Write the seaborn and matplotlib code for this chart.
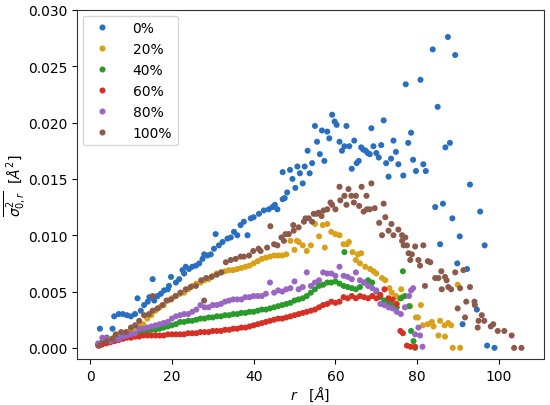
import numpy as np
import pandas as pd
import matplotlib
matplotlib.use("Agg")
import matplotlib.pyplot as plt
import seaborn as sns

labels = ["0%", "20%", "40%", "60%", "80%", "100%"]
colors = ["#2a6fbf", "#d9a019", "#2a9a2a", "#d62f26", "#9a66c4", "#8c5a4a"]

r_0 = [2.4, 4.1, 5.5, 5.9, 7, 8, 9, 10, 11, 11.6,
       12.4, 13.2, 14.1, 14.5, 15.3, 15.3, 15.7, 16.5, 17.3, 18.1,
       19, 19.3, 19.8, 21, 21.8, 22.6, 23, 23.4, 24.2, 25,
       25.9, 26.7, 27.5, 27.9, 28.7, 29.5, 30.3, 30.7, 31.5, 32.4,
       33.6, 34.4, 35.2, 36, 36.8, 37.6, 38.5, 39.3, 40, 41.3,
       42.5, 43.7, 44.6, 45.2, 45.8, 47.1, 47.6, 48.2, 47.1, 48.9,
       49.5, 50.2, 50.7, 51.3, 52, 52.5, 53.2, 53.7, 54.3, 55,
       55.5, 56.2, 56.7, 57.3, 58, 58.5, 59.2, 59.8, 60.3, 61,
       61.6, 62.2, 62.7, 63.4, 64, 64.6, 65.2, 65.7, 66.3, 66.8,
       67.4, 67.9, 68.4, 68.8, 69.3, 70, 70.6, 71.2, 71.8, 72.4,
       73, 73.6, 74.2, 74.8, 75.4, 76.6, 77.2, 77.8, 78.5, 79,
       79.7, 80.8, 81.5, 82.1, 83.8, 84.4, 85, 85.6, 86.3, 86.9,
       87.5, 88, 88.6, 89.3, 89.8, 90.4, 91.1, 92.2, 92.9, 94.6,
       95.4, 96.5, 97.1, 98.9]
v_0 = [0.0017, 0.0009, 0.0017, 0.0028, 0.0030, 0.0030, 0.0029, 0.0028, 0.0030, 0.0044,
       0.0033, 0.0038, 0.0041, 0.0045, 0.0044, 0.0061, 0.0042, 0.0046, 0.0048, 0.0051,
       0.0052, 0.0055, 0.0063, 0.0058, 0.0061, 0.0069, 0.0066, 0.0072, 0.0070, 0.0072,
       0.0073, 0.0075, 0.0079, 0.0083, 0.0082, 0.0083, 0.0088, 0.0101, 0.0091, 0.0094,
       0.0097, 0.0098, 0.0103, 0.0100, 0.0109, 0.0112, 0.0100, 0.0115, 0.0116, 0.0119,
       0.0122, 0.0123, 0.0125, 0.0127, 0.0123, 0.0132, 0.0133, 0.0138, 0.0156, 0.0158,
       0.0150, 0.0142, 0.0161, 0.0155, 0.0146, 0.0161, 0.0175, 0.0155, 0.0164, 0.0197,
       0.0183, 0.0172, 0.0193, 0.0166, 0.0192, 0.0186, 0.0207, 0.0201, 0.0198, 0.0183,
       0.0175, 0.0179, 0.0197, 0.0179, 0.0159, 0.0184, 0.0164, 0.0166, 0.0178, 0.0176,
       0.0175, 0.0173, 0.0172, 0.0195, 0.0179, 0.0173, 0.0169, 0.0180, 0.0202, 0.0164,
       0.0152, 0.0168, 0.0184, 0.0174, 0.0163, 0.0153, 0.0234, 0.0182, 0.0191, 0.0167,
       0.0157, 0.0238, 0.0163, 0.0157, 0.0265, 0.0125, 0.0214, 0.0092, 0.0128, 0.0178,
       0.0276, 0.0182, 0.0115, 0.0260, 0.0075, 0.0099, 0.0021, 0.0070, 0.0145, 0.0034,
       0.0121, 0.0091, 0.0002, 0.0000]

r_20 = [2, 3, 4, 5, 6, 7, 8, 9, 10, 11,
        12, 13, 14, 15, 16, 17, 18, 19, 20, 21,
        22, 23, 24, 25, 26, 27, 28, 29, 30, 31,
        32, 33, 34, 35, 36, 37, 38, 39, 40, 41,
        42, 43, 44, 45, 46, 47, 48, 49, 50, 50.6,
        51, 52, 53, 54, 55, 56, 56.9, 57.4, 58, 59,
        60, 61, 62, 62.8, 63.3, 64.2, 65, 65.5, 66, 66.3,
        67.3, 68.5, 69.3, 70, 71.4, 72.2, 73.2, 73.8, 74.8, 75.6,
        76.1, 76.3, 78.3, 79.7, 80.2, 80.9, 81.4, 82.6, 83.6, 84,
        85.2, 85.6, 86.7, 86.8, 87.6, 88.3, 88.7, 89.9, 90.5]
v_20 = [0.0003, 0.0005, 0.0006, 0.0008, 0.0010, 0.0011, 0.0012, 0.0014, 0.0016, 0.0018,
        0.0020, 0.0021, 0.0026, 0.0029, 0.0033, 0.0036, 0.0038, 0.0042, 0.0044, 0.0046,
        0.0048, 0.0049, 0.0052, 0.0055, 0.0057, 0.0058, 0.0060, 0.0061, 0.0064, 0.0066,
        0.0067, 0.0068, 0.0069, 0.0069, 0.0070, 0.0071, 0.0072, 0.0073, 0.0075, 0.0077,
        0.0079, 0.0080, 0.0081, 0.0082, 0.0082, 0.0082, 0.0083, 0.0095, 0.0087, 0.0095,
        0.0094, 0.0091, 0.0086, 0.0091, 0.0110, 0.0099, 0.0109, 0.0089, 0.0110, 0.0103,
        0.0101, 0.0100, 0.0092, 0.0092, 0.0094, 0.0085, 0.0078, 0.0083, 0.0075, 0.0084,
        0.0072, 0.0070, 0.0068, 0.0066, 0.0062, 0.0060, 0.0053, 0.0049, 0.0046, 0.0044,
        0.0052, 0.0045, 0.0037, 0.0027, 0.0027, 0.0038, 0.0020, 0.0021, 0.0023, 0.0019,
        0.0011, 0.0024, 0.0020, 0.0010, 0.0022, 0.0020, 0.0000, 0.0056, 0.0000]

r_40 = [2, 3, 4, 5, 6, 7, 8, 9, 10, 11,
        12, 13, 14, 15, 16, 17, 18, 19, 20, 21,
        22, 23, 24, 25, 26, 27, 28, 29, 30, 31,
        32, 33, 34, 35, 36, 37, 38, 39, 40, 41,
        42, 43, 44, 45, 46, 47, 48, 49, 50, 51,
        52, 53, 54, 55, 56, 57, 58, 59, 60, 61,
        62, 63, 64, 65, 66, 67, 68, 69, 70, 71,
        72, 73, 74, 75, 76, 77, 78,
        78.5, 79.1, 79.5, 62.2, 76.5]
v_40 = [0.0003, 0.0005, 0.0005, 0.0006, 0.0008, 0.0008, 0.0010, 0.0011, 0.0012, 0.0012,
        0.0013, 0.0014, 0.0015, 0.0016, 0.0016, 0.0017, 0.0018, 0.0019, 0.0020, 0.0021,
        0.0023, 0.0023, 0.0024, 0.0024, 0.0025, 0.0026, 0.0026, 0.0027, 0.0027, 0.0028,
        0.0028, 0.0029, 0.0029, 0.0030, 0.0030, 0.0031, 0.0031, 0.0032, 0.0032, 0.0033,
        0.0034, 0.0034, 0.0035, 0.0036, 0.0037, 0.0038, 0.0039, 0.0040, 0.0042, 0.0043,
        0.0044, 0.0046, 0.0049, 0.0052, 0.0055, 0.0056, 0.0058, 0.0058, 0.0059, 0.0057,
        0.0055, 0.0054, 0.0053, 0.0052, 0.0054, 0.0058, 0.0060, 0.0058, 0.0050, 0.0045,
        0.0042, 0.0040, 0.0038, 0.0036, 0.0044, 0.0046, 0.0037,
        0.0015, 0.0006, 0.0000, 0.0085, 0.0068]

r_60 = [2, 3, 4, 5, 6, 7, 8, 9, 10, 11,
        12, 13, 14, 15, 16, 17, 18, 19, 20, 21,
        22, 23, 24, 25, 26, 27, 28, 29, 30, 31,
        32, 33, 34, 35, 36, 37, 38, 39, 40, 41,
        42, 43, 44, 45, 46, 47, 48, 49, 50, 51,
        52, 53, 54, 55, 56, 57, 58, 59, 60, 61,
        62, 63, 64, 65, 66, 67, 68, 69, 70, 71,
        72, 73, 74, 75,
        75.9, 76.5, 77.5, 78.4, 79.5]
v_60 = [0.0002, 0.0003, 0.0004, 0.0005, 0.0006, 0.0007, 0.0008, 0.0009, 0.0009, 0.0010,
        0.0010, 0.0011, 0.0011, 0.0011, 0.0011, 0.0011, 0.0011, 0.0012, 0.0012, 0.0012,
        0.0012, 0.0012, 0.0013, 0.0013, 0.0013, 0.0014, 0.0014, 0.0014, 0.0015, 0.0015,
        0.0015, 0.0016, 0.0016, 0.0017, 0.0017, 0.0018, 0.0018, 0.0019, 0.0020, 0.0021,
        0.0022, 0.0023, 0.0024, 0.0025, 0.0026, 0.0026, 0.0027, 0.0028, 0.0029, 0.0030,
        0.0031, 0.0032, 0.0033, 0.0034, 0.0036, 0.0038, 0.0039, 0.0041, 0.0040, 0.0041,
        0.0045, 0.0044, 0.0046, 0.0044, 0.0046, 0.0045, 0.0044, 0.0046, 0.0044, 0.0047,
        0.0052, 0.0044, 0.0043, 0.0039,
        0.0015, 0.0013, 0.0002, 0.0001, 0.0001]

r_80 = [2, 3, 4, 5, 6, 7, 8, 9, 10, 11,
        12, 13, 14, 15, 16, 17, 18, 19, 20, 21,
        22, 23, 24, 25, 26, 27, 28, 29, 30, 31,
        32, 33, 34, 35, 36, 37, 38, 39, 40, 41,
        42, 43, 44, 45, 46, 47, 48, 49, 50, 51,
        52, 53, 54, 55, 56, 57, 58, 59, 60, 61,
        62, 63, 64, 65, 66, 67, 68, 69, 70, 71,
        72, 73, 74, 75, 76, 77, 78,
        78.5, 79, 79.5, 80.3, 80.7, 81.3]
v_80 = [0.0004, 0.0009, 0.0008, 0.0006, 0.0008, 0.0008, 0.0010, 0.0011, 0.0012, 0.0013,
        0.0017, 0.0017, 0.0018, 0.0019, 0.0020, 0.0021, 0.0022, 0.0023, 0.0026, 0.0028,
        0.0029, 0.0030, 0.0030, 0.0032, 0.0034, 0.0038, 0.0036, 0.0036, 0.0038, 0.0038,
        0.0039, 0.0041, 0.0042, 0.0043, 0.0043, 0.0043, 0.0045, 0.0045, 0.0046, 0.0046,
        0.0046, 0.0048, 0.0058, 0.0049, 0.0051, 0.0050, 0.0052, 0.0053, 0.0059, 0.0052,
        0.0054, 0.0067, 0.0055, 0.0058, 0.0060, 0.0067, 0.0066, 0.0066, 0.0064, 0.0072,
        0.0064, 0.0063, 0.0061, 0.0067, 0.0060, 0.0058, 0.0055, 0.0053, 0.0051, 0.0039,
        0.0038, 0.0036, 0.0035, 0.0032, 0.0030, 0.0036, 0.0046,
        0.0051, 0.0053, 0.0012, 0.0018, 0.0011, 0.0001]

r_100 = [2.3, 4.1, 5.5, 6.3, 7.6, 8.8, 10, 11, 12, 13.2,
         14.4, 15.3, 15.3, 16.5, 17.7, 18.7, 19.8, 20.9, 22.1, 23.4,
         24.6, 25.9, 27.2, 27.9, 28.4, 29.7, 31, 32.1, 33.2, 34.4,
         35.6, 36.8, 37.6, 38.9, 39.9, 41.2, 41.7, 43.3, 44.1, 45,
         45.8, 46.8, 47.4, 47.8, 48.6, 49.7, 49.8, 51, 52.3, 52.7,
         53.5, 54.3, 54.7, 55.4, 55.9, 56.6, 57.1, 58, 58.8, 59.2,
         60, 61, 61.2, 62.2, 62.7, 63.2, 63.9, 64.5, 65, 65.8,
         66.4, 66.9, 67.6, 67.7, 68.4, 68.8, 69.6, 70.7, 71.4, 71.8,
         72.2, 73, 73.7, 74.2, 75.4, 76.3, 76.3, 76.7, 77.1, 77.5,
         77.9, 78.3, 78.7, 79.5, 80.3, 80.7, 81.5, 81.9, 82.6, 83.2,
         84.4, 85.2, 85.9, 86, 86.8, 87.2, 87.6, 88.3, 89.3, 89.9,
         90.5, 91.3, 91.7, 92, 92.9, 94, 94.1, 94.8, 95, 95.8,
         96.4, 98, 98.6, 99.7, 101.3, 103.1, 103.7, 105.5]
v_100 = [0.0002, 0.0006, 0.0008, 0.0012, 0.0014, 0.0014, 0.0018, 0.0020, 0.0024, 0.0029,
         0.0030, 0.0046, 0.0033, 0.0035, 0.0038, 0.0042, 0.0043, 0.0046, 0.0049, 0.0052,
         0.0054, 0.0055, 0.0060, 0.0042, 0.0062, 0.0063, 0.0065, 0.0067, 0.0076, 0.0078,
         0.0079, 0.0081, 0.0081, 0.0082, 0.0086, 0.0088, 0.0086, 0.0089, 0.0108, 0.0092,
         0.0091, 0.0098, 0.0095, 0.0101, 0.0101, 0.0109, 0.0104, 0.0107, 0.0112, 0.0115,
         0.0115, 0.0112, 0.0119, 0.0119, 0.0120, 0.0117, 0.0122, 0.0123, 0.0129, 0.0127,
         0.0123, 0.0143, 0.0131, 0.0135, 0.0127, 0.0141, 0.0135, 0.0129, 0.0135, 0.0126,
         0.0143, 0.0121, 0.0135, 0.0123, 0.0123, 0.0146, 0.0124, 0.0111, 0.0100, 0.0128,
         0.0116, 0.0104, 0.0110, 0.0100, 0.0105, 0.0100, 0.0095, 0.0091, 0.0098, 0.0091,
         0.0084, 0.0078, 0.0083, 0.0090, 0.0078, 0.0073, 0.0091, 0.0055, 0.0077, 0.0076,
         0.0062, 0.0062, 0.0068, 0.0052, 0.0063, 0.0060, 0.0054, 0.0052, 0.0067, 0.0035,
         0.0053, 0.0069, 0.0027, 0.0041, 0.0054, 0.0041, 0.0038, 0.0018, 0.0024, 0.0029,
         0.0024, 0.0019, 0.0021, 0.0015, 0.0015, 0.0011, 0.0000, 0.0000]

series_r = [r_0, r_20, r_40, r_60, r_80, r_100]
series_v = [v_0, v_20, v_40, v_60, v_80, v_100]

frames = []
for lab, rr, vv in zip(labels, series_r, series_v):
    frames.append(pd.DataFrame({"r": rr, "v": vv, "series": lab}))
df = pd.concat(frames, ignore_index=True)

fig = plt.figure(figsize=(5.5, 4.06), dpi=100)
ax = fig.add_axes([0.14, 0.113, 0.849, 0.86])
sns.scatterplot(data=df, x="r", y="v", hue="series", hue_order=labels,
                palette=colors, s=19, linewidth=0, ax=ax)
ax.set_xlim(-3.2, 111)
ax.set_ylim(-0.001, 0.030)
ax.set_xticks([0, 20, 40, 60, 80, 100])
ax.set_yticks([0.000, 0.005, 0.010, 0.015, 0.020, 0.025, 0.030])
ax.set_yticklabels(["0.000", "0.005", "0.010", "0.015", "0.020", "0.025", "0.030"])
ax.tick_params(labelsize=10)
ax.set_xlabel(r"$r$   $[Å]$", fontsize=10, labelpad=1)
ax.set_ylabel(r"$\overline{\sigma^2_{0,r}}$  $[Å^2]$", fontsize=10, labelpad=0)
for sp in ax.spines.values():
    sp.set_color("#333333")
sns.move_legend(ax, "upper left", title=None, fontsize=10, frameon=True,
                handletextpad=1.2, borderaxespad=0.4)
fig.savefig("out.png", dpi=100)
